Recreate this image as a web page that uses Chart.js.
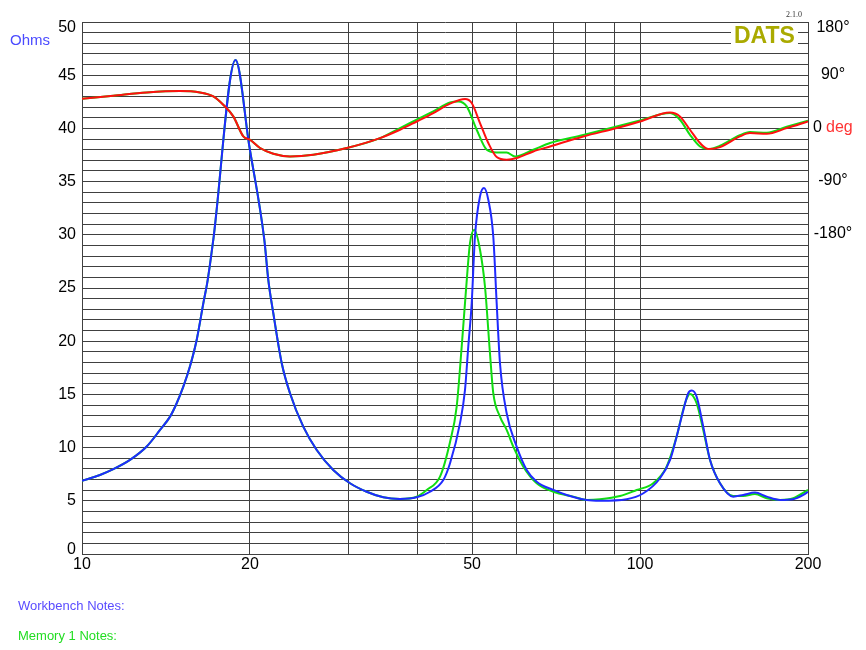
<!DOCTYPE html>
<html>
<head>
<meta charset="utf-8">
<script src="https://cdn.jsdelivr.net/npm/chart.js@4"></script>
<style>
  body { margin: 0; background: #fff; }
  #wrap { position: relative; width: 866px; height: 650px; font-family: "Liberation Sans", Arial, sans-serif; }
  #wrap canvas { position: absolute; left: 0; top: 0; }
  .txt { position: absolute; white-space: nowrap; line-height: 1; }
</style>
</head>
<body>
<div id="wrap">
  <canvas id="impChart" width="866" height="650"></canvas>
  <div class="txt" style="left:10px;top:32px;font-size:15px;color:#4b4bff;">Ohms</div>
  <div class="txt" style="left:731px;top:24px;font-size:23px;font-weight:bold;color:#aaaa00;background:#fff;padding:0 3px;">DATS</div>
  <div class="txt" style="left:786px;top:11px;font-size:8px;font-family:'Liberation Serif',serif;color:#333;">2.1.0</div>
  <div class="txt" style="left:18px;top:599px;font-size:13px;color:#5a4cff;">Workbench Notes:</div>
  <div class="txt" style="left:18px;top:629px;font-size:13px;color:#22dd22;">Memory 1 Notes:</div>
</div>
<script>
// axis ticks
const freqGrid = [10, 20, 30, 40, 50, 60, 70, 80, 90, 100, 200];
const freqLabels = [10, 20, 50, 100, 200];
const phaseLabels = [180, 90, 0, -90, -180];

// workbench impedance (Hz, ohms)
const wbFreq = [10, 10.77, 11.38, 12.19, 13.06, 13.8, 14.38, 14.78, 15.19, 15.61, 16.05, 16.5, 16.8, 17.19, 18.84,
  19.94, 21.22, 21.57, 22.02, 22.8, 23.59, 24.92, 26.34, 28.2, 30.22, 32.37, 34.67, 37.14, 39.79, 42.04,
  44.41, 45.66, 47.58, 48.57, 49.23, 49.93, 50.61, 51.67, 52.53, 53.47, 54.58, 55.35, 56.11, 57.68, 60.11,
  62.65, 65.29, 69.92, 73.89, 80.25, 84.78, 94.65, 101.4, 108.6, 113.2, 116.3, 119.6, 122.0, 123.8, 126.3,
  129.8, 133.5, 139.1, 146.9, 153.1, 160.7, 168.7, 178.2, 188.2, 196.2, 200];
const wbOhms = [6.87, 7.43, 7.97, 8.84, 10.1, 11.66, 12.91, 14.17, 15.73, 17.62, 20.12, 23.58, 25.77, 29.53, 46.42,
  38.37, 29.53, 25.77, 22.63, 17.93, 15.11, 11.97, 9.78, 7.9, 6.65, 5.85, 5.33, 5.18, 5.33, 5.85,
  6.95, 8.53, 12.3, 15.43, 19.49, 23.58, 29.84, 33.61, 34.39, 33.29, 29.84, 23.58, 17.93, 13.23, 10.09,
  7.9, 6.8, 6.02, 5.55, 5.08, 5.01, 5.15, 5.71, 7.12, 8.84, 11.03, 13.54, 15.11, 15.36, 14.79,
  11.97, 8.84, 6.65, 5.39, 5.55, 5.77, 5.39, 5.08, 5.15, 5.55, 5.85];

// memory 1 impedance
const m1Freq = [10, 10.77, 11.38, 12.19, 13.06, 13.8, 14.38, 14.78, 15.19, 15.61, 16.05, 16.5, 16.8, 17.19, 18.84,
  19.94, 21.22, 21.57, 22.02, 22.8, 23.59, 24.92, 26.34, 28.2, 30.22, 32.37, 34.67, 37.14, 39.79, 41.47,
  43.81, 45.66, 46.93, 47.91, 48.77, 49.58, 50.47, 51.67, 52.74, 53.84, 54.58, 56.11, 57.68, 59.28, 61.78,
  65.29, 69.92, 75.94, 80.25, 84.78, 92.07, 98.64, 105.6, 111.6, 116.3, 120.4, 122.9, 126.3, 129.8, 133.5,
  139.1, 146.9, 153.1, 160.7, 168.7, 178.2, 188.2, 200];
const m1Ohms = [6.87, 7.43, 7.97, 8.84, 10.1, 11.66, 12.91, 14.17, 15.73, 17.62, 20.12, 23.58, 25.77, 29.53, 46.42,
  38.37, 29.53, 25.77, 22.63, 17.93, 15.11, 11.97, 9.78, 7.9, 6.65, 5.85, 5.33, 5.18, 5.38, 6.02,
  7.27, 10.53, 13.86, 19.49, 24.82, 29.22, 30.47, 28.59, 25.14, 18.87, 15.11, 12.91, 11.66, 10.09, 8.21,
  6.65, 5.85, 5.39, 5.08, 5.15, 5.45, 6.02, 6.65, 8.21, 11.03, 14.17, 15.04, 14.17, 11.66, 8.84,
  6.65, 5.45, 5.45, 5.64, 5.24, 5.08, 5.24, 6.02];

// workbench phase (Hz, degrees)
const wbPhaseFreq = [10, 11.38, 13.06, 14.98, 16.27, 17.19, 17.91, 18.67, 19.46, 20.0, 20.85, 22.02, 23.59, 25.97,
  29.81, 34.2, 37.14, 39.79, 42.61, 45.66, 48.57, 49.93, 51.67, 53.47, 55.35, 57.68, 60.11, 64.38, 68.97,
  79.13, 90.82, 100, 113.2, 117.9, 122.9, 128.1, 132.5, 139.1, 151.0, 157.4, 168.7, 183.2, 200];
const wbPhase = [50.2, 55.3, 60.8, 63.3, 60.8, 54.1, 40.0, 20.3, -13.6, -19.2, -33.2, -42.9, -47.5, -44.6,
  -33.2, -16.4, -2.3, 11.7, 26.0, 41.8, 49.7, 43.0, 9.1, -24.8, -48.5, -53.1, -50.2, -39.0, -30.6,
  -13.6, 0.6, 11.7, 27.0, 20.3, -2.3, -24.8, -34.9, -31.6, -13.6, -7.9, -9.1, 0.6, 11.7];

// memory 1 phase
const m1PhaseFreq = [10, 11.38, 13.06, 14.98, 16.27, 17.19, 17.91, 18.67, 19.46, 20.0, 20.85, 22.02, 23.59, 25.97,
  29.81, 34.2, 37.14, 39.79, 42.61, 45.66, 47.25, 48.91, 50.97, 53.12, 55.35, 57.68, 59.7, 64.38, 68.97,
  79.13, 90.82, 100, 113.2, 117.9, 122.9, 128.1, 132.5, 139.1, 151.0, 157.4, 168.7, 183.2, 200];
const m1Phase = [50.2, 55.3, 60.8, 63.3, 60.8, 54.1, 40.0, 20.3, -13.6, -19.2, -33.2, -42.9, -47.5, -44.6,
  -33.2, -16.4, 0.6, 14.7, 28.7, 44.0, 45.6, 37.2, -2.3, -36.1, -40.7, -40.7, -47.5, -36.1, -24.8,
  -11.2, 3.3, 13.5, 26.0, 14.7, -10.8, -30.6, -34.9, -29.3, -11.5, -6.3, -7.3, 2.8, 13.0];

const pts = (xs, ys) => xs.map((x, i) => ({ x: x, y: ys[i] }));

const gridColor = '#404040';
const fontStr = "16px 'Liberation Sans', Arial, sans-serif";
const font = { family: "'Liberation Sans', Arial, sans-serif", size: 16 };

function line(label, data, color, axis) {
  return {
    label: label, data: data, yAxisID: axis,
    borderColor: color, borderWidth: 2, pointRadius: 0,
    cubicInterpolationMode: 'monotone', fill: false
  };
}

// phase labels on the right ("deg" in red), plus the end labels of the ohms axis
// which sit just inside the plot edges like the original
const axisLabelPlugin = {
  id: 'axisLabels',
  afterDraw(chart) {
    const s = chart.scales.yPhase;
    const y0 = chart.scales.y;
    const area = chart.chartArea;
    const ctx = chart.ctx;
    ctx.save();
    ctx.font = fontStr;
    ctx.textBaseline = 'middle';
    phaseLabels.forEach(v => {
      const y = Math.max(s.getPixelForValue(v) - 1, area.top + 6);
      if (v === 0) {
        ctx.textAlign = 'left';
        ctx.fillStyle = '#000';
        ctx.fillText('0', 813, y);
        ctx.fillStyle = '#ff3333';
        ctx.fillText('deg', 826, y);
      } else {
        ctx.textAlign = 'center';
        ctx.fillStyle = '#000';
        ctx.fillText(v + '\u00b0', 833, y);
      }
    });
    ctx.textAlign = 'right';
    ctx.fillStyle = '#000';
    ctx.fillText(String(y0.max), area.left - 6, area.top + 6);
    ctx.fillText(String(y0.min), area.left - 6, area.bottom - 4);
    ctx.restore();
  }
};

new Chart(document.getElementById('impChart').getContext('2d'), {
  type: 'line',
  data: {
    datasets: [
      line('Workbench phase', pts(wbPhaseFreq, wbPhase), '#ff1010', 'yPhase'),
      line('Workbench', pts(wbFreq, wbOhms), '#1f2aff', 'y'),
      line('Memory 1 phase', pts(m1PhaseFreq, m1Phase), '#11dd11', 'yPhase'),
      line('Memory 1', pts(m1Freq, m1Ohms), '#11dd11', 'y')
    ]
  },
  options: {
    responsive: false,
    animation: false,
    layout: { padding: { top: 22, bottom: 72, left: 0, right: 0 } },
    plugins: { legend: { display: false }, tooltip: { enabled: false } },
    scales: {
      x: {
        type: 'logarithmic', min: 10, max: 200,
        afterBuildTicks: s => { s.ticks = freqGrid.map(v => ({ value: v })); },
        afterFit: s => { s.height = 24; },
        ticks: {
          autoSkip: false, maxRotation: 0, padding: 1, color: '#000', font: font,
          callback: v => freqLabels.includes(v) ? String(v) : ''
        },
        grid: { color: gridColor, drawTicks: false },
        border: { color: gridColor }
      },
      y: {
        min: 0, max: 50,
        afterFit: s => { s.width = 82; },
        ticks: {
          stepSize: 1, autoSkip: false, padding: 6, color: '#000', font: font,
          callback: v => (v % 5 === 0 && v !== 0 && v !== 50) ? String(v) : ''
        },
        grid: { color: gridColor, drawTicks: false },
        border: { color: gridColor }
      },
      yPhase: {
        position: 'right', min: -720, max: 180,
        afterFit: s => { s.width = 58; },
        ticks: { display: false },
        grid: { display: false, drawTicks: false },
        border: { display: false }
      }
    }
  },
  plugins: [axisLabelPlugin]
});
</script>
</body>
</html>
